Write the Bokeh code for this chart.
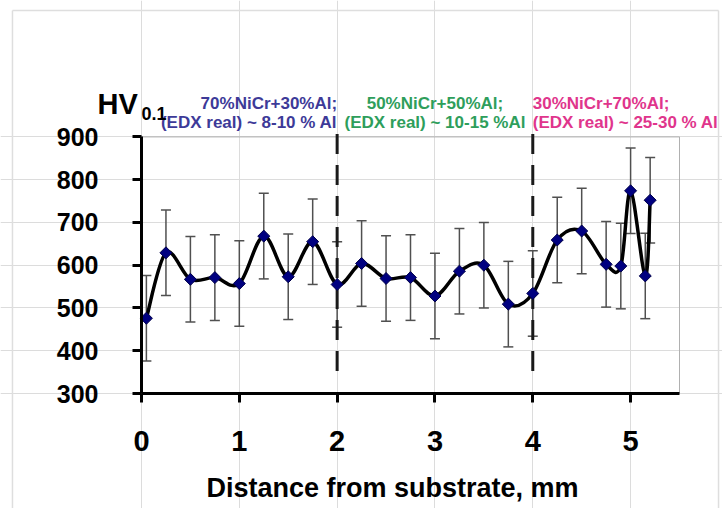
import math
from bokeh.plotting import figure
from bokeh.models import ColumnDataSource, Whisker, FixedTicker, TeeHead, LinearAxis
from bokeh.core.properties import value
from bokeh.embed import file_html
from bokeh.resources import INLINE

# ---- data ----
DISTANCE = [0.05, 0.25, 0.5, 0.75, 1.0, 1.25, 1.5, 1.75, 2.0, 2.25, 2.5, 2.75,
            3.0, 3.25, 3.5, 3.75, 4.0, 4.25, 4.5, 4.75, 4.9, 5.0, 5.15, 5.2]
HARDNESS = [476, 629, 567, 571, 557, 668, 573, 655, 555, 604, 569, 571,
            528, 586, 600, 509, 534, 659, 680, 602, 598, 774, 575, 752]
ERROR = [100, 100, 100, 100, 100, 100, 100, 100, 100, 100, 100, 100,
         100, 100, 100, 100, 100, 100, 100, 100, 100, 100, 100, 100]
DIVIDERS = [2, 4]
X_TICKS = [0, 1, 2, 3, 4, 5]
Y_TICKS = [300, 400, 500, 600, 700, 800, 900]
X_LIM = (0, 5.5)
Y_LIM = (300, 900)
ZONE_LINE1 = ["70%NiCr+30%Al;", "50%NiCr+50%Al;", "30%NiCr+70%Al;"]
ZONE_LINE2 = ["(EDX real) ~ 8-10 % Al", "(EDX real) ~ 10-15 %Al", "(EDX real) ~ 25-30 % Al"]
ZONE_COLORS = ["#3d3a98", "#2e9e5b", "#e0358c"]
ZONE_X = [2.0, 3.0, 4.0]
ZONE_ALIGN = ["right", "center", "left"]
Y_LABEL_MAIN = "HV"
Y_LABEL_SUB = "0.1"
X_TITLE = "Distance from substrate, mm"

FONT = "Liberation Sans"

# one frame that fills the whole canvas; axes are pinned at the data corner (0, 300)
p = figure(width=722, height=508, x_range=(-1.4414, 5.9395), y_range=(31.1, 1219.0),
           output_backend="svg", toolbar_location=None,
           min_border=0, min_border_left=0, min_border_right=0,
           min_border_top=0, min_border_bottom=0)
p.background_fill_color = "white"
p.border_fill_color = "white"
p.outline_line_color = None
p.axis.visible = False
p.grid.visible = False

# grid limited to the plot box
p.xgrid.visible = True
p.ygrid.visible = True
p.xgrid.ticker = FixedTicker(ticks=X_TICKS)
p.ygrid.ticker = FixedTicker(ticks=Y_TICKS)
p.xgrid.bounds = Y_LIM
p.ygrid.bounds = X_LIM
for g in (p.xgrid, p.ygrid):
    g.grid_line_color = "#dcdcdc"
    g.grid_line_width = 1

# faint outer frame of the chart area and the plot-box border (top/right)
p.segment(x0=[-1.319, -1.319, 5.899], y0=[0, 1195.6, 1195.6],
          x1=[-1.319, 5.899, 5.899], y1=[1195.6, 1195.6, 0],
          line_color="#dedede", line_width=1.5)
p.segment(x0=[X_LIM[0], X_LIM[1]], y0=[Y_LIM[1], Y_LIM[0]],
          x1=[X_LIM[1], X_LIM[1]], y1=[Y_LIM[1], Y_LIM[1]],
          line_color="#b0b0b0", line_width=1)

# axes pinned at x=0 and y=300
xax = LinearAxis(fixed_location=Y_LIM[0], bounds=X_LIM, ticker=FixedTicker(ticks=X_TICKS))
yax = LinearAxis(fixed_location=X_LIM[0], bounds=Y_LIM, ticker=FixedTicker(ticks=Y_TICKS))
for ax, fs in ((xax, "29px"), (yax, "25px")):
    ax.axis_line_width = 3
    ax.axis_line_color = "black"
    ax.major_tick_line_width = 3
    ax.major_tick_line_color = "black"
    ax.major_tick_in = 0
    ax.major_tick_out = 9
    ax.minor_tick_line_color = None
    ax.major_label_text_font = FONT
    ax.major_label_text_font_style = "bold"
    ax.major_label_text_font_size = fs
    ax.major_label_text_color = "black"
xax.major_label_standoff = 28
yax.major_label_standoff = 34
p.add_layout(xax, "below")
p.add_layout(yax, "left")

# dashed zone dividers
p.segment(x0=DIVIDERS, y0=[907] * len(DIVIDERS), x1=DIVIDERS, y1=[336] * len(DIVIDERS),
          line_color="#1a1a1a", line_width=3, line_dash="20 11")

# error bars
err_src = ColumnDataSource(dict(
    x=DISTANCE,
    upper=[v + e for v, e in zip(HARDNESS, ERROR)],
    lower=[v - e for v, e in zip(HARDNESS, ERROR)],
))
p.add_layout(Whisker(source=err_src, base="x", upper="upper", lower="lower",
                     line_color="#505050", line_width=1.5,
                     upper_head=TeeHead(size=10, line_color="#505050", line_width=1.5),
                     lower_head=TeeHead(size=10, line_color="#505050", line_width=1.5)))

# smoothed line (Catmull-Rom style Bezier through the data points)
n = len(DISTANCE)
bz = dict(x0=[], y0=[], x1=[], y1=[], cx0=[], cy0=[], cx1=[], cy1=[])
for i in range(n - 1):
    pm = max(i - 1, 0)
    pp = min(i + 2, n - 1)
    xa, ya = DISTANCE[i], HARDNESS[i]
    xb, yb = DISTANCE[i + 1], HARDNESS[i + 1]
    bz["x0"].append(xa); bz["y0"].append(ya)
    bz["x1"].append(xb); bz["y1"].append(yb)
    bz["cx0"].append(xa + (xb - DISTANCE[pm]) / 6.0)
    bz["cy0"].append(ya + (yb - HARDNESS[pm]) / 6.0)
    bz["cx1"].append(xb - (DISTANCE[pp] - xa) / 6.0)
    bz["cy1"].append(yb - (HARDNESS[pp] - ya) / 6.0)
p.bezier(x0="x0", y0="y0", x1="x1", y1="y1", cx0="cx0", cy0="cy0", cx1="cx1", cy1="cy1",
         source=ColumnDataSource(bz), line_color="black", line_width=3.5)

# markers
p.scatter(DISTANCE, HARDNESS, marker="square", angle=math.pi / 4, size=8.5,
          fill_color="#000080", line_color="#00004a", line_width=1)

# zone annotations (two lines each)
for t1, t2, c, x, al in zip(ZONE_LINE1, ZONE_LINE2, ZONE_COLORS, ZONE_X, ZONE_ALIGN):
    p.text(x=[x, x], y=[978, 933.7], text=[t1, t2], text_align=al, text_baseline="middle",
           text_font=value(FONT), text_font_style="bold", text_font_size="17px",
           text_color=c)

# HV0.1 header
p.text(x=[-0.45], y=[978], text=[Y_LABEL_MAIN], text_align="left", text_baseline="middle",
       text_font=value(FONT), text_font_style="bold", text_font_size="29px", text_color="black")
p.text(x=[0.0], y=[954.7], text=[Y_LABEL_SUB], text_align="left", text_baseline="middle",
       text_font=value(FONT), text_font_style="bold", text_font_size="18px", text_color="black")

# x axis title
p.text(x=[2.566], y=[77.9], text=[X_TITLE], text_align="center", text_baseline="middle",
       text_font=value(FONT), text_font_style="bold", text_font_size="27px", text_color="black")

open("out.html", "w").write(file_html(p, INLINE))
